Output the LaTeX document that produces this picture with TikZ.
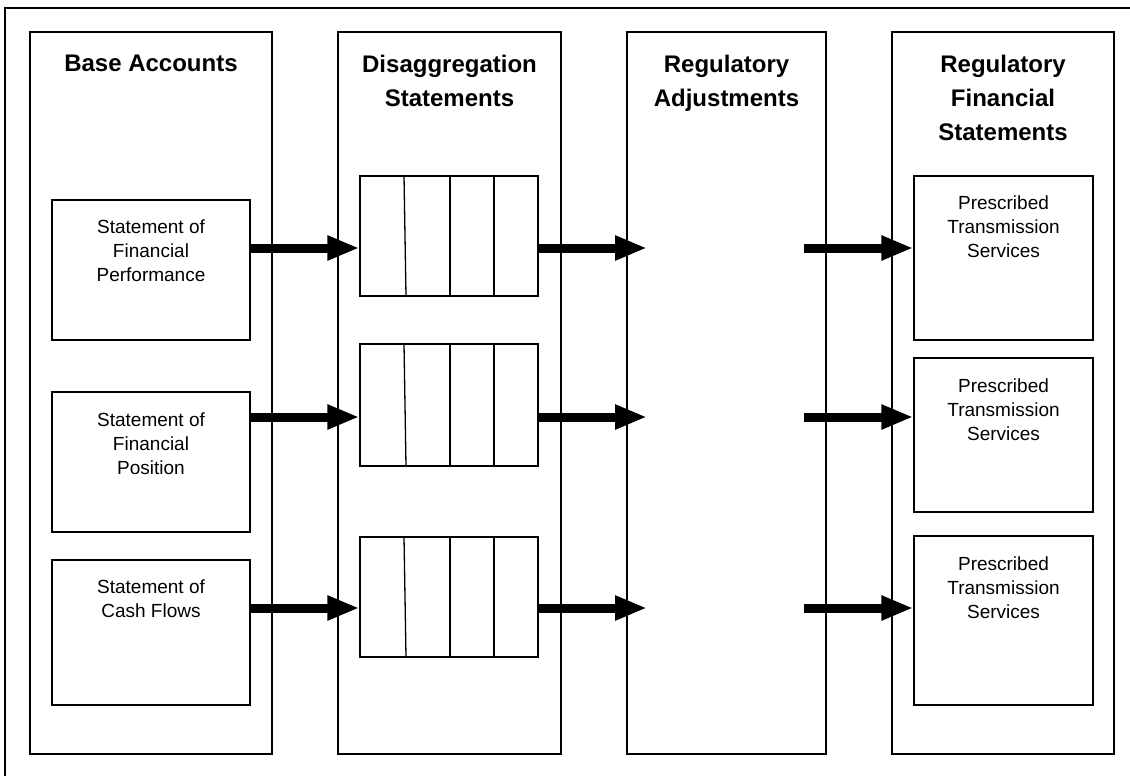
\documentclass[tikz,border=0pt]{standalone}
\usepackage{fontspec}
\setmainfont{Liberation Sans}
\usetikzlibrary{arrows.meta}
\begin{document}
\begin{tikzpicture}[x=1pt,y=-1pt,
  frame/.style={draw, line width=1.3pt, inner sep=0pt},
  title/.style={inner sep=0pt, anchor=north, align=center, font=\fontsize{24}{34}\selectfont\bfseries},
  txt/.style={inner sep=0pt, anchor=north, align=center, font=\fontsize{19}{24}\selectfont},
  bigarrow/.style={line width=9pt, -{Triangle[length=32pt,width=23pt]}},
  divider/.style={line width=1.3pt}
]
\useasboundingbox (0,0) rectangle (1130,776);
\fill[white] (0,0) rectangle (1130,776);
% outer frame (only top and left edges fall inside the picture)
\draw[line width=1.3pt] (5,780) -- (5,8) -- (1135,8);

% columns
\node[frame, minimum width=242pt, minimum height=722pt] (c1) at (151,393) {};
\node[frame, minimum width=223pt, minimum height=722pt] (c2) at (449.5,393) {};
\node[frame, minimum width=199pt, minimum height=722pt] (c3) at (726.5,393) {};
\node[frame, minimum width=222pt, minimum height=722pt] (c4) at (1003,393) {};

\node[title] (t1) at (151,55) {Base Accounts};
\node[title] (t2) at (449.5,55) {Disaggregation\\Statements};
\node[title] (t3) at (726.5,55) {Regulatory\\Adjustments};
\node[title] (t4) at (1003,55) {Regulatory\\Financial\\Statements};

% base account boxes
\node[frame, minimum width=198pt, minimum height=140pt] (b1) at (151,270) {};
\node[frame, minimum width=198pt, minimum height=140pt] (b2) at (151,462) {};
\node[frame, minimum width=198pt, minimum height=145pt] (b3) at (151,632.5) {};
\node[txt] (bt1) at (151,220) {Statement of\\Financial\\Performance};
\node[txt] (bt2) at (151,413) {Statement of\\Financial\\Position};
\node[txt] (bt3) at (151,580) {Statement of\\Cash Flows};

% disaggregation boxes
\node[frame, minimum width=178pt, minimum height=120pt] (d1) at (449,236) {};
\node[frame, minimum width=178pt, minimum height=122pt] (d2) at (449,405) {};
\node[frame, minimum width=178pt, minimum height=120pt] (d3) at (449,597) {};
\foreach \t/\b in {176/296, 344/466, 537/657}{
  \draw[divider] (404,\t) -- (406,\b);
  \draw[divider] (450,\t) -- (450,\b);
  \draw[divider] (494,\t) -- (494,\b);
}

% prescribed transmission services boxes
\node[frame, minimum width=179pt, minimum height=164pt] (p1) at (1003.5,258) {};
\node[frame, minimum width=179pt, minimum height=154pt] (p2) at (1003.5,435) {};
\node[frame, minimum width=179pt, minimum height=169pt] (p3) at (1003.5,620.5) {};
\node[txt] (pt1) at (1003.5,196) {Prescribed\\Transmission\\Services};
\node[txt] (pt2) at (1003.5,379) {Prescribed\\Transmission\\Services};
\node[txt] (pt3) at (1003.5,557) {Prescribed\\Transmission\\Services};

% arrow rows
\coordinate (r1) at (0,248);
\coordinate (r2) at (0,417);
\coordinate (r3) at (0,608);
\coordinate (m1) at (647,248);
\coordinate (m2) at (647,417);
\coordinate (m3) at (647,608);
\coordinate (n1) at (804,248);
\coordinate (n2) at (804,417);
\coordinate (n3) at (804,608);

\draw[bigarrow] (b1.east |- r1) -- (d1.west |- r1);
\draw[bigarrow] (b2.east |- r2) -- (d2.west |- r2);
\draw[bigarrow] (b3.east |- r3) -- (d3.west |- r3);
\draw[bigarrow] (d1.east |- r1) -- (m1);
\draw[bigarrow] (d2.east |- r2) -- (m2);
\draw[bigarrow] (d3.east |- r3) -- (m3);
\draw[bigarrow] (n1) -- (p1.west |- r1);
\draw[bigarrow] (n2) -- (p2.west |- r2);
\draw[bigarrow] (n3) -- (p3.west |- r3);
\end{tikzpicture}
\end{document}
